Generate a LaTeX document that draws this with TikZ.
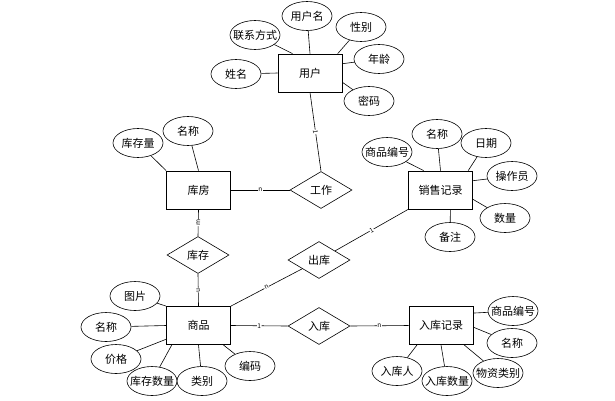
\documentclass[tikz,border=0pt]{standalone}
\usepackage{fontspec}
\newfontfamily\cjk{Noto Sans CJK SC}
\usepackage{tikz}
\usetikzlibrary{shapes.geometric}
\tikzset{entity/.style={draw, line width=0.8pt, minimum width=64pt, minimum height=38pt, inner sep=0}}
\tikzset{attr/.style={draw, ellipse, line width=0.6pt, minimum width=50pt, minimum height=29pt, inner sep=0}}
\tikzset{rel/.style={draw, diamond, aspect=1.7, line width=0.6pt, minimum width=62pt, minimum height=37pt, inner sep=0}}
\tikzset{card/.style={font=\cjk\fontsize{6.5}{6.5}\selectfont, sloped, fill=white, inner sep=0.4pt}}
\tikzset{every edge/.style={draw, line width=0.6pt}}
\newcommand{\slim}[1]{\makebox[0pt]{#1}}

\begin{document}
\begin{tikzpicture}[x=1pt, y=-1pt, font=\cjk\fontsize{11}{13}\selectfont]
  \useasboundingbox (0, 0) rectangle (615, 400);

  % user
  \node[entity] at (310, 73) (user) {用户};
  \node[attr] at (255, 35) (uphone) {\slim{联系方式}};
  \node[attr] at (307, 16) (uname) {用户名};
  \node[attr] at (361, 27) (usex) {性别};
  \node[attr] at (379, 59) (uage) {年龄};
  \node[attr] at (236, 74) (ureal) {姓名};
  \node[attr] at (369, 101) (upwd) {密码};
  \draw (uphone) edge (user.132);
  \draw (uname) edge (user.north);
  \draw (usex) edge (user.35);
  \draw (uage) edge (user.16);
  \draw (upwd) edge (user.-16);
  \draw (ureal) edge (user.west);

  % store
  \node[entity] at (198.5, 190) (store) {库房};
  \node[attr] at (138, 143) (samount) {库存量};
  \node[attr] at (188, 131) (sname) {名称};
  \draw (samount) edge (store.north west);
  \draw (sname) edge (store.north);

  % sales record
  \node[entity] at (440.5, 190) (sales) {销售记录};
  \node[attr] at (387, 152) (sid) {\slim{商品编号}};
  \node[attr] at (437, 134) (sname2) {名称};
  \node[attr] at (486, 143) (sdate) {日期};
  \node[attr] at (512, 176) (sop) {操作员};
  \node[attr] at (505, 218) (snum) {数量};
  \node[attr] at (450, 237) (snote) {备注};
  \draw (sid) edge (sales.131);
  \draw (sname2) edge (sales.north);
  \draw (sdate) edge (sales.35);
  \draw (sop) edge (sales.16);
  \draw (snum) edge (sales.-16);
  \draw (snote) edge (sales.-63);

  % goods
  \node[entity] at (198.5, 325.5) (goods) {商品};
  \node[attr] at (135, 296) (gpic) {图片};
  \node[attr] at (106, 327) (gname) {名称};
  \node[attr] at (116, 359) (gprice) {价格};
  \node[attr] at (152, 381) (gstock) {\slim{库存数量}};
  \node[attr] at (202, 381) (gtype) {类别};
  \node[attr] at (250, 366) (gcode) {编码};
  \draw (gpic) edge (goods.north west);
  \draw (gname) edge (goods.west);
  \draw (gprice) edge (goods.203);
  \draw (gstock) edge (goods.216);
  \draw (gtype) edge (goods.south);
  \draw (gcode) edge (goods.-38);

  % inbound record
  \node[entity] at (441, 325.5) (inrec) {入库记录};
  \node[attr] at (513, 311) (iid) {\slim{商品编号}};
  \node[attr] at (512, 343) (iname) {名称};
  \node[attr] at (397, 371) (iman) {入库人};
  \node[attr] at (447, 381) (inum) {\slim{入库数量}};
  \node[attr] at (498, 373) (itype) {\slim{物资类别}};
  \draw (iid) edge (inrec.21);
  \draw (iname) edge (inrec.-3);
  \draw (iman) edge (inrec.219);
  \draw (inum) edge (inrec.south);
  \draw (itype) edge (inrec.-40);

  % relations
  \node[rel] at (321, 190) (work) {工作};
  \node[rel] at (198, 255) (stock) {库存};
  \node[rel] at (319, 260) (out) {出库};
  \node[rel] at (319, 326) (in) {入库};
  \draw (user.south) edge node[card] {1} (work.north);
  \draw (store.east) edge node[card] {n} (work.west);
  \draw (store.south) edge node[card] {m} (stock.north);
  \draw (stock.south) edge node[card] {n} (goods.north);
  \draw (goods.north east) edge node[card] {n} (out);
  \draw (out) edge node[card] {1} (sales.south west);
  \draw (goods.east) edge node[card] {1} (in.west);
  \draw (in.east) edge node[card] {n} (inrec.west);
\end{tikzpicture}
\end{document}
